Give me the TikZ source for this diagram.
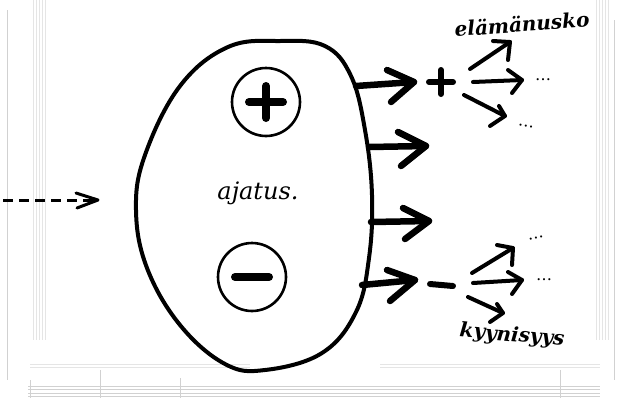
\documentclass[tikz,border=0pt]{standalone}
\usepackage{fontspec}
\setmainfont{DejaVu Serif}
\begin{document}
\begin{tikzpicture}[x=1pt,y=-1pt,
  bigarrow/.style={line width=6.5pt, line cap=round, line join=round},
  smallarrow/.style={line width=4pt, line cap=round, line join=round},
  signbar/.style={line width=6pt, line cap=round},
  ring/.style={circle, draw, line width=2.6pt, minimum size=68pt, inner sep=0pt},
  label/.style={inner sep=0pt, font=\fontsize{20}{22}\selectfont\bfseries\itshape},
  dots/.style={inner sep=0pt, font=\fontsize{16}{17}\selectfont},
  faint/.style={draw=black!18, line width=0.8pt},
  fainter/.style={draw=black!10, line width=0.6pt}]
\useasboundingbox (0,0) rectangle (621,400);
% faint sheet-music background
\foreach \yy in {386,389.5,393,396.5} {\draw[faint] (28,\yy) -- (600,\yy);}
\foreach \yy in {364,367} {\draw[fainter] (30,\yy) -- (250,\yy); \draw[fainter] (380,\yy) -- (600,\yy);}
\foreach \xx in {33,36,39,42,45} {\draw[fainter] (\xx,0) -- (\xx,340);}
\foreach \xx in {596,599,602,605,608} {\draw[fainter] (\xx,0) -- (\xx,340);}
\draw[faint] (7,10) -- (7,380);
\draw[faint] (614,20) -- (614,380);
\draw[faint] (30,380) -- (30,398);
\draw[faint] (100,370) -- (100,398);
\draw[faint] (180,378) -- (180,398);
\draw[faint] (560,370) -- (560,398);
% blob
\draw[line width=4pt, line join=round] plot[smooth cycle, tension=0.65] coordinates {
 (280,41) (325,46) (351,76) (365,130) (372,195) (369,258) (356,312) (322,353) (265,370)
 (225,364) (180,325) (147,268) (136,210) (145,155) (180,86) (228,47)};
% circles
\node[ring] (plusc) at (266,102) {};
\node[ring] (minusc) at (252,277) {};
\draw[line width=8pt, line cap=round] ([xshift=-17pt]plusc.center) -- ([xshift=17pt]plusc.center);
\draw[line width=8pt, line cap=round] ([yshift=-16pt]plusc.center) -- ([yshift=16pt]plusc.center);
\draw[line width=8pt, line cap=round] ([xshift=-17pt]minusc.center) -- ([xshift=17pt]minusc.center);
\node (ajatus) at (258,193) {\fontsize{24}{27}\selectfont\itshape ajatus.};
% incoming dashed arrow
\coordinate (din) at (3,200);
\coordinate (dtip) at (98,200);
\draw[line width=3pt, dash pattern=on 10pt off 6pt] (din) -- ([xshift=-4pt]dtip);
\draw[line width=3pt, line cap=round, line join=round] (76,193) -- (dtip) -- (77,208);
% big arrows
\coordinate (a1s) at (356,86); \coordinate (a1t) at (414,82);
\draw[bigarrow] (a1s) -- (a1t);
\draw[bigarrow] (387,70) -- (a1t) -- (391,102);
\coordinate (a2s) at (369,147); \coordinate (a2t) at (426,146);
\draw[bigarrow] (a2s) -- (a2t);
\draw[bigarrow] (398,132) -- (a2t) -- (401,166);
\coordinate (a3s) at (371,222); \coordinate (a3t) at (429,221);
\draw[bigarrow] (a3s) -- (a3t);
\draw[bigarrow] (403,208) -- (a3t) -- (405,239);
\coordinate (a4s) at (362,285); \coordinate (a4t) at (415,280);
\draw[bigarrow] (a4s) -- (a4t);
\draw[bigarrow] (387,270) -- (a4t) -- (390,301);
% plus / minus signs
\coordinate (ps) at (441,82);
\draw[signbar] ([xshift=-12pt]ps) -- ([xshift=12pt]ps);
\draw[signbar] ([yshift=-12pt]ps) -- ([yshift=12pt]ps);
\coordinate (ms) at (441,285);
\draw[signbar] (430,284) -- (453,286);
% upper fan
\coordinate (u1t) at (510,42); \draw[smallarrow] (470,69) -- (u1t); \draw[smallarrow] (493,41) -- (u1t) -- (508,60);
\coordinate (u2t) at (522,80); \draw[smallarrow] (473,82) -- (u2t); \draw[smallarrow] (508,70) -- (u2t) -- (512,93);
\coordinate (u3t) at (505,116); \draw[smallarrow] (464,95) -- (u3t); \draw[smallarrow] (499,106) -- (u3t) -- (490,126);
\node[dots] (ud1) at (543,80) {\ldots};
\node[dots, rotate=-10] (ud2) at (526,126) {\ldots};
\node[label, rotate=4] (elam) at (522,24) {elämänusko};
% lower fan
\coordinate (l1t) at (513,248); \draw[smallarrow] (472,273) -- (l1t); \draw[smallarrow] (497,245) -- (l1t) -- (512,265);
\coordinate (l2t) at (522,280); \draw[smallarrow] (473,283) -- (l2t); \draw[smallarrow] (508,272) -- (l2t) -- (512,294);
\coordinate (l3t) at (503,313); \draw[smallarrow] (468,297) -- (l3t); \draw[smallarrow] (497,304) -- (l3t) -- (490,322);
\node[dots, rotate=12] (ld1) at (536,238) {\ldots};
\node[dots] (ld2) at (544,280) {\ldots};
\node[label, rotate=-5] (kyyn) at (512,336) {kyynisyys};
\end{tikzpicture}
\end{document}
